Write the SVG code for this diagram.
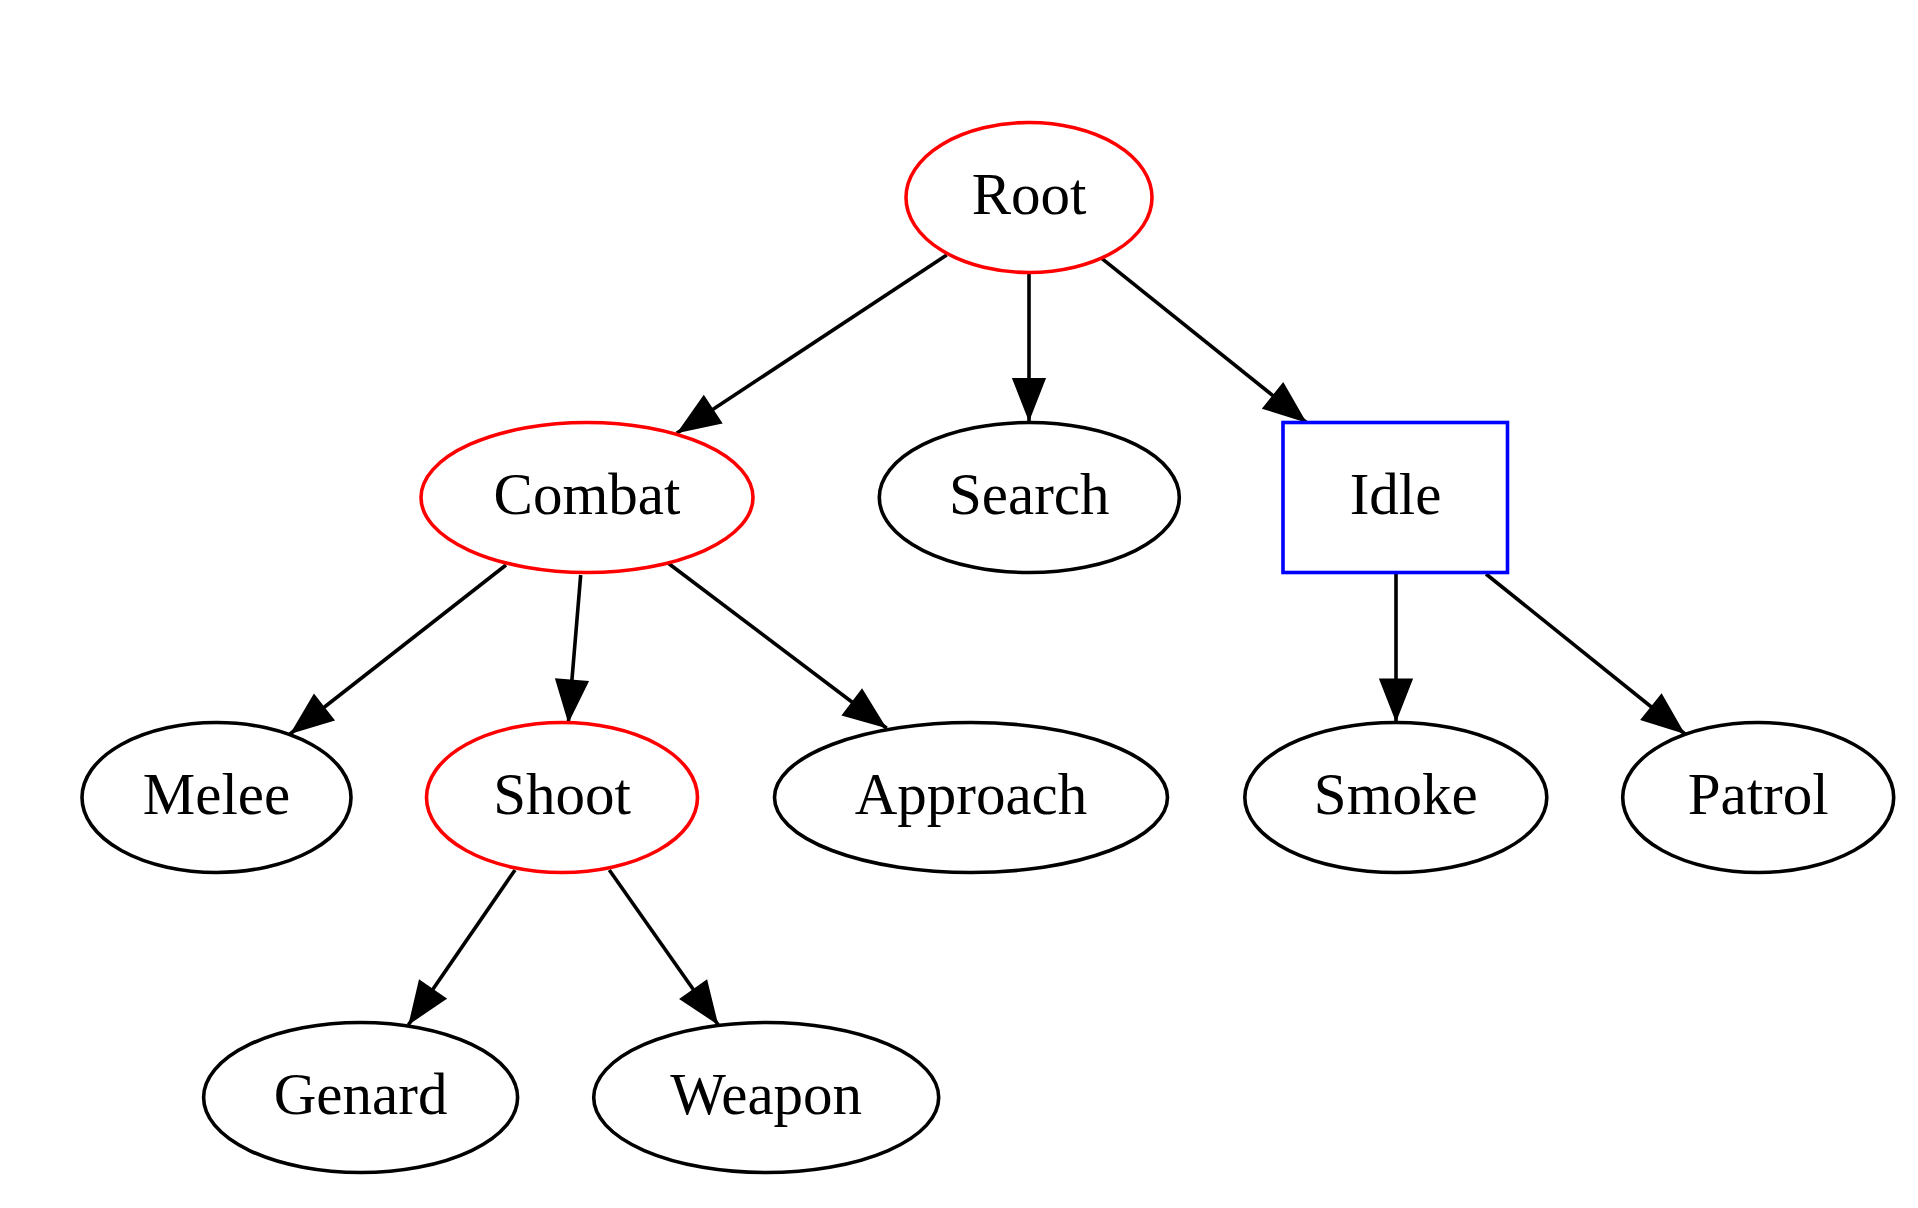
<svg xmlns="http://www.w3.org/2000/svg" width="1918" height="1208" viewBox="0 0 1918 1208">
<style>
.n ellipse,.n rect{fill:#fff;stroke-width:3.6}
.blk{stroke:#000}
.red{stroke:#ff0000}
.blue{stroke:#0000ff}
text{font-family:"Liberation Serif","Times New Roman",serif;font-size:59px;text-anchor:middle;fill:#000}
.e path{fill:none;stroke:#000;stroke-width:3.6;marker-end:url(#ah)}
</style>
<defs>
<marker id="ah" markerUnits="userSpaceOnUse" markerWidth="60" markerHeight="44" viewBox="-4 -22 52 44" refX="42" refY="0" orient="auto" overflow="visible">
<polygon points="0,-14.5 37,0 0,14.5" fill="#000" stroke="#000" stroke-width="3.6" stroke-linejoin="miter"/>
</marker>
</defs>
<rect width="1918" height="1208" fill="#fff"/>
<g id="edges" class="e">
<path d="M946.7,255 L676.7,433.3"/>
<path d="M1029,273.3 L1029,421.7"/>
<path d="M1101.7,258.3 L1306.7,422.7"/>
<path d="M506,565 L290,734"/>
<path d="M580.7,575 L568.3,723.3"/>
<path d="M668.3,563.3 L886.7,728.3"/>
<path d="M1396,573 L1396,722.3"/>
<path d="M1486,574 L1685,734"/>
<path d="M515,870 L408.3,1025"/>
<path d="M609.3,870 L718.3,1025"/>
</g>
<g id="root" class="n"><ellipse class="red" cx="1029" cy="197.5" rx="123" ry="75"/><text x="1029" y="213.5">Root</text></g>
<g id="combat" class="n"><ellipse class="red" cx="587" cy="497.5" rx="166" ry="75"/><text x="587" y="513.5">Combat</text></g>
<g id="search" class="n"><ellipse class="blk" cx="1029.3" cy="497.5" rx="150" ry="75"/><text x="1029.3" y="513.5">Search</text></g>
<g id="idle" class="n"><rect class="blue" x="1283" y="422.5" width="224.5" height="150"/><text x="1395.5" y="513.5">Idle</text></g>
<g id="melee" class="n"><ellipse class="blk" cx="216.5" cy="797.5" rx="134.5" ry="75"/><text x="216.5" y="813.5">Melee</text></g>
<g id="shoot" class="n"><ellipse class="red" cx="562" cy="797.5" rx="135.5" ry="75"/><text x="562" y="813.5">Shoot</text></g>
<g id="approach" class="n"><ellipse class="blk" cx="971" cy="797.5" rx="196.5" ry="75"/><text x="971" y="813.5">Approach</text></g>
<g id="smoke" class="n"><ellipse class="blk" cx="1395.8" cy="797.5" rx="151" ry="75"/><text x="1395.8" y="813.5">Smoke</text></g>
<g id="patrol" class="n"><ellipse class="blk" cx="1758.2" cy="797.5" rx="135.5" ry="75"/><text x="1758.2" y="813.5">Patrol</text></g>
<g id="genard" class="n"><ellipse class="blk" cx="360.6" cy="1097.5" rx="157" ry="75"/><text x="360.6" y="1113.5">Genard</text></g>
<g id="weapon" class="n"><ellipse class="blk" cx="766.2" cy="1097.5" rx="172.5" ry="75"/><text x="766.2" y="1113.5">Weapon</text></g>
</svg>
